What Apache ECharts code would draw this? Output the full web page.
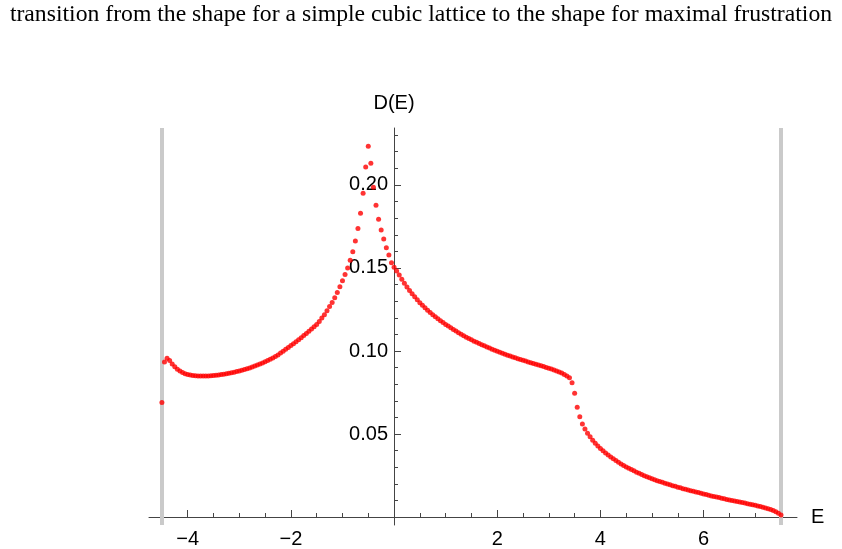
<!DOCTYPE html>
<html>
<head>
<meta charset="utf-8">
<script src="https://cdn.jsdelivr.net/npm/echarts@6/dist/echarts.min.js"></script>
<style>
html,body{margin:0;padding:0;background:#fff;}
#chart{width:842px;height:549px;}
</style>
</head>
<body>
<div id="chart"></div>
<script>
const titleText = "transition from the shape for a simple cubic lattice to the shape for maximal frustration";

const energies = [
-4.5,-4.45,-4.4,-4.35,-4.3,-4.25,-4.2,-4.15,-4.1,-4.05,
-4,-3.95,-3.9,-3.85,-3.8,-3.75,-3.7,-3.65,-3.6,-3.55,
-3.5,-3.45,-3.4,-3.35,-3.3,-3.25,-3.2,-3.15,-3.1,-3.05,
-3,-2.95,-2.9,-2.85,-2.8,-2.75,-2.7,-2.65,-2.6,-2.55,
-2.5,-2.45,-2.4,-2.35,-2.3,-2.25,-2.2,-2.15,-2.1,-2.05,
-2,-1.95,-1.9,-1.85,-1.8,-1.75,-1.7,-1.65,-1.6,-1.55,
-1.5,-1.45,-1.4,-1.35,-1.3,-1.25,-1.2,-1.15,-1.1,-1.05,
-1,-0.95,-0.9,-0.85,-0.8,-0.75,-0.7,-0.65,-0.6,-0.55,
-0.5,-0.45,-0.4,-0.35,-0.3,-0.25,-0.2,-0.15,-0.1,-0.05,
0,0.05,0.1,0.15,0.2,0.25,0.3,0.35,0.4,0.45,
0.5,0.55,0.6,0.65,0.7,0.75,0.8,0.85,0.9,0.95,
1,1.05,1.1,1.15,1.2,1.25,1.3,1.35,1.4,1.45,
1.5,1.55,1.6,1.65,1.7,1.75,1.8,1.85,1.9,1.95,
2,2.05,2.1,2.15,2.2,2.25,2.3,2.35,2.4,2.45,
2.5,2.55,2.6,2.65,2.7,2.75,2.8,2.85,2.9,2.95,
3,3.05,3.1,3.15,3.2,3.25,3.3,3.35,3.4,3.45,
3.5,3.55,3.6,3.65,3.7,3.75,3.8,3.85,3.9,3.95,
4,4.05,4.1,4.15,4.2,4.25,4.3,4.35,4.4,4.45,
4.5,4.55,4.6,4.65,4.7,4.75,4.8,4.85,4.9,4.95,
5,5.05,5.1,5.15,5.2,5.25,5.3,5.35,5.4,5.45,
5.5,5.55,5.6,5.65,5.7,5.75,5.8,5.85,5.9,5.95,
6,6.05,6.1,6.15,6.2,6.25,6.3,6.35,6.4,6.45,
6.5,6.55,6.6,6.65,6.7,6.75,6.8,6.85,6.9,6.95,
7,7.05,7.1,7.15,7.2,7.25,7.3,7.35,7.4,7.45,
7.5
];

const dos = [
0.0690,0.0934,0.0956,0.0942,0.0922,0.0905,0.0890,0.0879,0.0870,0.0863,
0.0858,0.0855,0.0852,0.0851,0.0850,0.0849,0.0849,0.0849,0.0850,0.0851,
0.0852,0.0854,0.0856,0.0858,0.0860,0.0863,0.0866,0.0869,0.0872,0.0876,
0.0880,0.0884,0.0888,0.0893,0.0898,0.0903,0.0909,0.0915,0.0921,0.0928,
0.0935,0.0942,0.0950,0.0958,0.0967,0.0976,0.0988,0.0999,0.1010,0.1021,
0.1033,0.1044,0.1056,0.1068,0.1080,0.1093,0.1106,0.1119,0.1132,0.1146,
0.1160,0.1178,0.1198,0.1218,0.1243,0.1268,0.1292,0.1320,0.1352,0.1387,
0.1423,0.1460,0.1500,0.1546,0.1598,0.1663,0.1737,0.1830,0.1950,0.2108,
0.2233,0.2131,0.1986,0.1878,0.1793,0.1729,0.1675,0.1622,0.1578,0.1532,
0.1505,0.1482,0.1458,0.1432,0.1408,0.1386,0.1365,0.1345,0.1326,0.1308,
0.1291,0.1275,0.1260,0.1246,0.1232,0.1219,0.1206,0.1194,0.1182,0.1171,
0.1160,0.1150,0.1140,0.1130,0.1120,0.1110,0.1101,0.1092,0.1083,0.1075,
0.1067,0.1059,0.1052,0.1045,0.1038,0.1031,0.1024,0.1018,0.1011,0.1005,
0.0999,0.0993,0.0987,0.0981,0.0975,0.0970,0.0964,0.0959,0.0954,0.0949,
0.0944,0.0939,0.0934,0.0929,0.0925,0.0920,0.0916,0.0911,0.0906,0.0901,
0.0896,0.0891,0.0886,0.0880,0.0874,0.0867,0.0859,0.0850,0.0839,0.0809,
0.0745,0.0661,0.0604,0.0560,0.0530,0.0504,0.0484,0.0463,0.0444,0.0428,
0.0413,0.0399,0.0386,0.0374,0.0362,0.0351,0.0340,0.0330,0.0320,0.0311,
0.0302,0.0294,0.0286,0.0278,0.0270,0.0263,0.0256,0.0249,0.0243,0.0237,
0.0231,0.0225,0.0219,0.0214,0.0209,0.0204,0.0199,0.0194,0.0189,0.0185,
0.0180,0.0176,0.0171,0.0167,0.0163,0.0159,0.0155,0.0151,0.0147,0.0143,
0.0139,0.0135,0.0131,0.0127,0.0124,0.0120,0.0117,0.0113,0.0110,0.0106,
0.0103,0.0100,0.0096,0.0093,0.0090,0.0087,0.0084,0.0080,0.0077,0.0074,
0.0071,0.0067,0.0063,0.0059,0.0055,0.0050,0.0045,0.0039,0.0032,0.0023,
0.0012
];

const xLabelTicks = [-4, -2, 2, 4, 6];
const xMinorTicks = [-4.5,-3.5,-3,-2.5,-1.5,-1,-0.5,0.5,1,1.5,2.5,3,3.5,4.5,5,5.5,6.5,7,7.5];
const yLabelTicks = [0.05, 0.10, 0.15, 0.20];
const yMinorTicks = [0.01,0.02,0.03,0.04,0.06,0.07,0.08,0.09,0.11,0.12,0.13,0.14,0.16,0.17,0.18,0.19,0.21,0.22,0.23];
const bandEdges = [-4.5, 7.5];

const X_MIN = -4.75, X_MAX = 7.81;
const Y_MIN = -0.0048, Y_MAX = 0.2343;

// pixel shifts that put the axes through the origin (grid edge -> zero line)
const X_AXIS_SHIFT = -8;
const Y_AXIS_SHIFT = -245;

const axisColor = '#444';
const labelFont = {fontFamily: 'Liberation Sans', fontSize: 20, color: '#000'};

const points = energies.map((e, i) => [e, dos[i]]);

const chart = echarts.init(document.getElementById('chart'), null, {renderer: 'canvas'});
chart.setOption({
  animation: false,
  backgroundColor: '#fff',
  title: {
    text: titleText, left: 'center', top: -2,
    textStyle: {fontFamily: 'Liberation Serif', fontSize: 23.7, fontWeight: 'normal', color: '#000'}
  },
  grid: {left: 149, right: 45, top: 128, bottom: 24, containLabel: false},
  xAxis: [
    {
      type: 'value', min: X_MIN, max: X_MAX, position: 'bottom', offset: X_AXIS_SHIFT,
      axisLine: {onZero: false, lineStyle: {color: axisColor, width: 1}},
      axisTick: {inside: true, length: 7, customValues: xLabelTicks, lineStyle: {color: axisColor}},
      axisLabel: Object.assign({customValues: xLabelTicks, margin: 12,
        formatter: v => String(v).replace('-', '\u2212')}, labelFont),
      splitLine: {show: false},
      name: 'E', nameLocation: 'end', nameGap: 14,
      nameTextStyle: Object.assign({padding: [4, 0, 0, 0]}, labelFont)
    },
    {
      type: 'value', min: X_MIN, max: X_MAX, position: 'bottom', offset: X_AXIS_SHIFT,
      axisLine: {show: false, onZero: false},
      axisTick: {inside: true, length: 4, customValues: xMinorTicks, lineStyle: {color: axisColor}},
      axisLabel: {show: false},
      splitLine: {show: false}
    }
  ],
  yAxis: [
    {
      type: 'value', min: Y_MIN, max: Y_MAX, position: 'left', offset: Y_AXIS_SHIFT,
      axisLine: {onZero: false, lineStyle: {color: axisColor, width: 1}},
      axisTick: {inside: true, length: 7, customValues: yLabelTicks, lineStyle: {color: axisColor}},
      axisLabel: Object.assign({customValues: yLabelTicks, margin: 6,
        formatter: v => v.toFixed(2)}, labelFont),
      splitLine: {show: false},
      name: 'D(E)', nameLocation: 'end', nameGap: 15,
      nameTextStyle: Object.assign({align: 'center'}, labelFont)
    },
    {
      type: 'value', min: Y_MIN, max: Y_MAX, position: 'left', offset: Y_AXIS_SHIFT,
      axisLine: {show: false, onZero: false},
      axisTick: {inside: true, length: 4, customValues: yMinorTicks, lineStyle: {color: axisColor}},
      axisLabel: {show: false},
      splitLine: {show: false}
    }
  ],
  series: [
    {
      type: 'line', data: [], z: 1, xAxisIndex: 0, yAxisIndex: 0,
      markLine: {
        silent: true, symbol: 'none', label: {show: false}, z: 1,
        lineStyle: {color: '#cacaca', width: 4, type: 'solid'},
        data: bandEdges.map(v => ({xAxis: v}))
      }
    },
    {
      type: 'scatter', data: points, z: 4, xAxisIndex: 0, yAxisIndex: 0,
      symbol: 'circle', symbolSize: 5,
      itemStyle: {color: '#ff0000'}
    }
  ]
});
</script>
</body>
</html>
